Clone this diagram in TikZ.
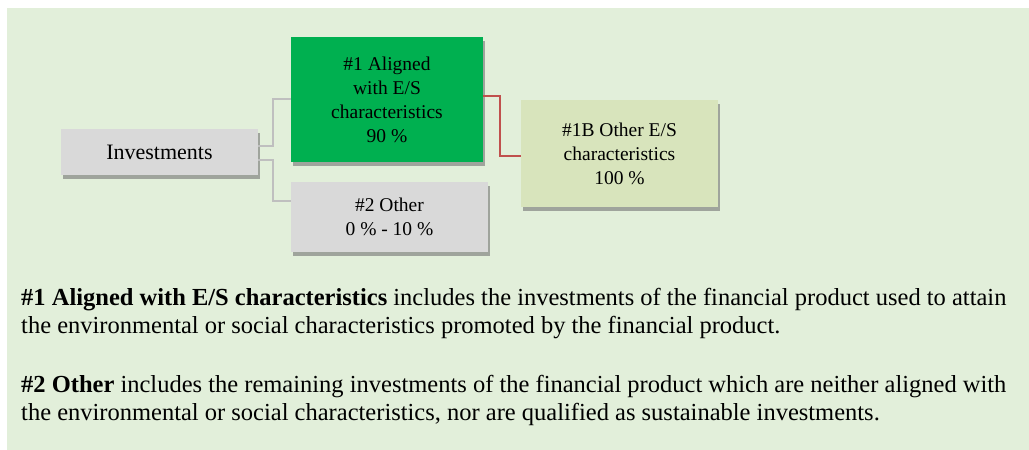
\documentclass[tikz,border=0pt]{standalone}
\usepackage{fontspec}
\setmainfont{Liberation Serif}
\usetikzlibrary{shadows,calc}
\definecolor{panel}{HTML}{E2EFDA}
\definecolor{boxgray}{HTML}{D9D9D9}
\definecolor{boxgreen}{HTML}{00B050}
\definecolor{boxolive}{HTML}{D8E4BC}
\definecolor{linegray}{HTML}{BFBFBF}
\definecolor{linered}{HTML}{C0504D}
\tikzset{
  box/.style={draw=none, align=center, inner sep=0pt,
    font=\fontsize{19.5}{24}\selectfont,
    drop shadow={shadow xshift=2pt, shadow yshift=-4pt, fill=black!55, opacity=0.6}},
  gline/.style={draw=linegray, line width=1.5pt},
  rline/.style={draw=linered, line width=1.3pt},
  para/.style={anchor=base west, inner sep=0pt, font=\fontsize{24.5}{28}\selectfont}
}
\begin{document}
\begin{tikzpicture}[x=1pt, y=-1pt]
\useasboundingbox (0,0) rectangle (1029,450);
\fill[white] (0,0) rectangle (1029,450);
\fill[panel] (7,8) rectangle (1029,450);

\node[box, fill=boxgray, minimum width=197pt, minimum height=46pt, font=\fontsize{22}{26}\selectfont] (inv) at (159.5,152) {Investments};
\node[box, fill=boxgreen, minimum width=192pt, minimum height=125pt] (one) at (387,99.5) {\#1 Aligned\\with E/S\\characteristics\\90 \%};
\node[box, fill=boxgray, minimum width=197pt, minimum height=70pt] (two) at (389.5,217) {\#2 Other\\0 \% - 10 \%};
\node[box, fill=boxolive, minimum width=197pt, minimum height=107pt] (oneb) at (619.5,153.5) {\#1B Other E/S\\characteristics\\100 \%};

\coordinate (a1) at (258,146);
\coordinate (a2) at (258,160);
\draw[gline] (a1) -- (273,146) |- (one.west |- 0,99);
\draw[gline] (a2) -- (273,160) |- (two.west |- 0,201);
\draw[rline] (one.east |- 0,96) -- (500,96) |- (oneb.west |- 0,156);

\node[para] (p1) at (21,305) {\textbf{\#1 Aligned with E/S characteristics} includes the investments of the financial product used to attain};
\node[para] (p2) at (21,333) {the environmental or social characteristics promoted by the financial product.};
\node[para] (p3) at (21,392) {\textbf{\#2 Other} includes the remaining investments of the financial product which are neither aligned with};
\node[para] (p4) at (21,420) {the environmental or social characteristics, nor are qualified as sustainable investments.};
\end{tikzpicture}
\end{document}
